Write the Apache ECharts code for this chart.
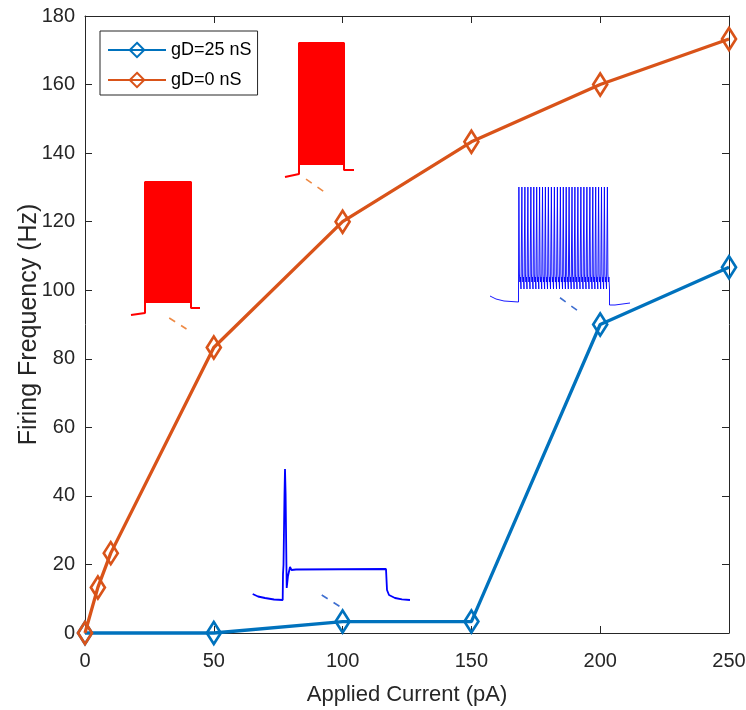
<!DOCTYPE html>
<html>
<head>
<meta charset="utf-8">
<script src="https://cdn.jsdelivr.net/npm/echarts@6/dist/echarts.min.js"></script>
<style>
html,body{margin:0;padding:0;background:#fff;}
#chart{width:746px;height:710px;}
</style>
</head>
<body>
<div id="chart"></div>
<script>
// ---- main data ----
const seriesNames = ['gD=25 nS', 'gD=0 nS'];
const currentBlue = [0, 50, 100, 150, 200, 250];
const freqBlue = [0, 0, 3.33, 3.33, 90, 106.7];
const currentOrange = [0, 5, 10, 50, 100, 150, 200, 250];
const freqOrange = [0, 13.3, 23.3, 83.3, 120, 143.3, 160, 173.3];
const xTicks = [0, 50, 100, 150, 200, 250];
const yTicks = [0, 20, 40, 60, 80, 100, 120, 140, 160, 180];
const xTitle = 'Applied Current (pA)';
const yTitle = 'Firing Frequency (Hz)';

// leader dashes (main-axis data units: pA, Hz)
const dashOrange50 = [[32.7, 91.9], [39.4, 88.7]];
const dashOrange100 = [[85.8, 132.4], [93.2, 128.5]];
const dashBlue200 = [[184.4, 97.8], [191.5, 93.9]];
const dashBlue100 = [[91.9, 11.1], [99.0, 7.7]];

// inset traces (local units: ms, mV)
const redTraceA = [[0, -93], [14, -91], [14, 40], [60, 40], [60, -86], [69, -86]];
const redBlockA = [[14, 40], [60, -81]];
const redTraceB = [[0, -94], [14, -91], [14, 40], [59, 40], [59, -87], [69, -87]];
const redBlockB = [[14, 40], [59, -82]];
const blueTrainPre = [[0, -66], [6, -69], [14, -71], [28.5, -72]];
const blueSpikeTimes = [28.5, 31.5, 34.5, 37.5, 40.5, 43.4, 46.3, 49.2, 52.1, 55, 58, 61, 64, 67, 70,
  72.9, 75.8, 78.7, 81.6, 84.5, 87.5, 90.5, 93.5, 96.5, 99.5, 102.4, 105.3, 108.2, 111.1, 114, 117];
const blueSpikePeak = 43;
const blueSpikeTrough = -59;
const blueSpikeAfter = [-44, -52, -47];
const blueTrainPost = [[119.5, -75], [125, -75], [140, -73]];
const blueSingle = [[0.7, -80], [6, -82.5], [13, -84], [22, -85.5], [30.7, -86], [31, -60], [31.5, -51],
  [32.5, 20], [33, 45], [33.6, 20], [34.7, -74], [36, -62], [38, -53], [39.5, -56], [41.3, -57],
  [44, -55.5], [134, -55], [135, -76], [137, -81], [143, -84], [150, -85.3], [158, -86]];

// ---- build ----
const C_BLUE = '#0072BD', C_ORANGE = '#D95319';
const TXT = '#262626';
const ARIAL = '"Liberation Sans", Arial, sans-serif';

function zip(xs, ys) { return xs.map((x, i) => [x, ys[i]]); }

const trainData = blueTrainPre.slice();
blueSpikeTimes.forEach(s => {
  trainData.push([s, blueSpikeTrough], [s + 0.4, blueSpikePeak], [s + 0.9, blueSpikeAfter[0]],
    [s + 1.4, blueSpikeAfter[1]], [s + 1.9, blueSpikeAfter[2]], [s + 2.5, blueSpikeTrough]);
});
blueTrainPost.forEach(p => trainData.push(p));

const insetGrids = [
  { left: 131, top: 182, width: 69, height: 133, x: [0, 69], y: [-93, 40] },
  { left: 285, top: 43, width: 69, height: 134, x: [0, 69], y: [-94, 40] },
  { left: 490, top: 185, width: 140, height: 120, x: [0, 140], y: [-75, 45] },
  { left: 252, top: 469, width: 158, height: 131, x: [0, 158], y: [-86, 45] }
];

const grids = [{ left: 85, right: 17, top: 16, bottom: 77, containLabel: false, outerBoundsMode: 'none' }];
const xAxes = [
  { type: 'value', gridIndex: 0, min: 0, max: 250, interval: 50, position: 'bottom',
    name: xTitle, nameLocation: 'middle', nameGap: 51, nameMoveOverlap: false,
    nameTextStyle: { fontFamily: ARIAL, fontSize: 22, color: TXT },
    axisLine: { show: true, onZero: false, lineStyle: { color: TXT, width: 1 } },
    axisTick: { show: true, inside: true, length: 7, lineStyle: { color: TXT } },
    axisLabel: { margin: 18, fontFamily: ARIAL, fontSize: 20, color: TXT },
    splitLine: { show: false } },
  { type: 'value', gridIndex: 0, min: 0, max: 250, interval: 50, position: 'top',
    axisLine: { show: true, onZero: false, lineStyle: { color: TXT, width: 1 } },
    axisTick: { show: true, inside: true, length: 7, lineStyle: { color: TXT } },
    axisLabel: { show: false }, splitLine: { show: false } }
];
const yAxes = [
  { type: 'value', gridIndex: 0, min: 0, max: 180, interval: 20, position: 'left',
    name: yTitle, nameLocation: 'middle', nameGap: 43, nameRotate: 90, nameMoveOverlap: false,
    nameTextStyle: { fontFamily: ARIAL, fontSize: 25, color: TXT },
    axisLine: { show: true, onZero: false, lineStyle: { color: TXT, width: 1 } },
    axisTick: { show: true, inside: true, length: 7, lineStyle: { color: TXT } },
    axisLabel: { margin: 10, fontFamily: ARIAL, fontSize: 20, color: TXT },
    splitLine: { show: false } },
  { type: 'value', gridIndex: 0, min: 0, max: 180, interval: 20, position: 'right',
    axisLine: { show: true, onZero: false, lineStyle: { color: TXT, width: 1 } },
    axisTick: { show: true, inside: true, length: 7, lineStyle: { color: TXT } },
    axisLabel: { show: false }, splitLine: { show: false } }
];

insetGrids.forEach((g, i) => {
  grids.push({ left: g.left, top: g.top, width: g.width, height: g.height, outerBoundsMode: 'none' });
  xAxes.push({ type: 'value', gridIndex: i + 1, min: g.x[0], max: g.x[1], show: false });
  yAxes.push({ type: 'value', gridIndex: i + 1, min: g.y[0], max: g.y[1], show: false });
});

function insetLine(idx, data, color, width, block) {
  const s = {
    type: 'line', xAxisIndex: idx + 2, yAxisIndex: idx + 2, data: data,
    showSymbol: false, symbol: 'none', silent: true, clip: false, z: 1,
    lineStyle: { color: color, width: width }, animation: false
  };
  if (block) {
    s.markArea = { silent: true, itemStyle: { color: color, opacity: 1 },
      data: [[{ coord: block[0] }, { coord: block[1] }]] };
  }
  return s;
}
function dash(data, color) {
  return { type: 'line', xAxisIndex: 0, yAxisIndex: 0, data: data, symbol: 'none',
    silent: true, z: 1, lineStyle: { color: color, width: 1.6, type: [7, 7] }, animation: false };
}

const series = [
  { name: seriesNames[0], type: 'line', xAxisIndex: 0, yAxisIndex: 0, data: zip(currentBlue, freqBlue),
    symbol: 'diamond', symbolSize: [14, 22], showAllSymbol: true, z: 3, clip: false,
    lineStyle: { color: C_BLUE, width: 3.3 },
    itemStyle: { color: 'rgba(255,255,255,0)', borderColor: C_BLUE, borderWidth: 2.8 }, animation: false },
  { name: seriesNames[1], type: 'line', xAxisIndex: 0, yAxisIndex: 0, data: zip(currentOrange, freqOrange),
    symbol: 'diamond', symbolSize: [14, 22], showAllSymbol: true, z: 4, clip: false,
    lineStyle: { color: C_ORANGE, width: 3.3 },
    itemStyle: { color: 'rgba(255,255,255,0)', borderColor: C_ORANGE, borderWidth: 2.8 }, animation: false },
  dash(dashOrange50, '#EE8A45'),
  dash(dashOrange100, '#EE8A45'),
  dash(dashBlue200, '#3F6FD0'),
  dash(dashBlue100, '#3F6FD0'),
  insetLine(0, redTraceA, '#FF0000', 2, redBlockA),
  insetLine(1, redTraceB, '#FF0000', 2, redBlockB),
  insetLine(2, trainData, '#0000FF', 0.9, null),
  insetLine(3, blueSingle, '#0000FF', 1.8, null)
];

const chart = echarts.init(document.getElementById('chart'), null, { renderer: 'canvas' });
chart.setOption({
  backgroundColor: '#ffffff',
  animation: false,
  grid: grids,
  xAxis: xAxes,
  yAxis: yAxes,
  legend: {
    data: seriesNames, orient: 'vertical', left: 100, top: 31,
    padding: [10, 6, 6, 7], itemGap: 12, itemWidth: 58, itemHeight: 18,
    backgroundColor: '#fff', borderColor: TXT, borderWidth: 1,
    textStyle: { fontFamily: ARIAL, fontSize: 18, color: '#000' }
  },
  series: series
});
</script>
</body>
</html>
